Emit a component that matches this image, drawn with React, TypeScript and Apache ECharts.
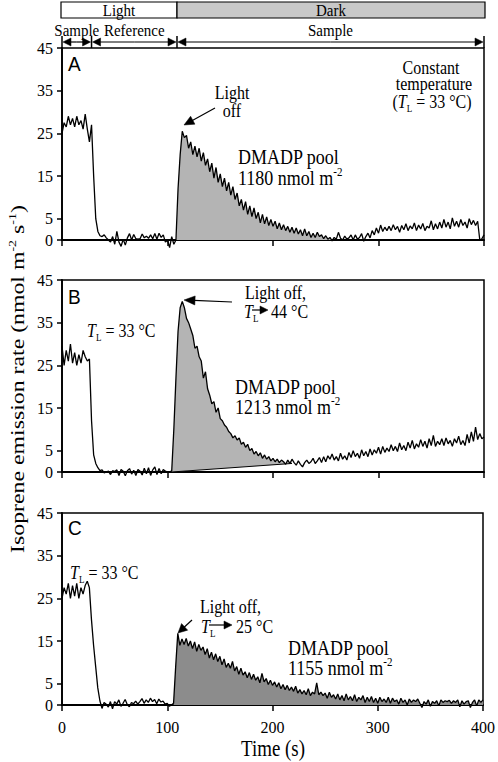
import { useEffect, useRef } from 'react';
import * as echarts from 'echarts';

// ---------------- data ----------------
const TIME_STEP = 2; // s between samples, t = 0 … 400
const A_VALUES = [
  25, 27.5, 26.5, 29, 27, 28.5, 26.5, 29, 27, 28, 26, 29.5, 26, 23, 27, 15, 5, 2, 1, 0.8,
  1.2, 0.5, 0, -0.5, 0.8, -1, 2, -0.5, -1.5, 0.2,
  -1.2, 0.5, 1.5, 0, 1.3, 0.3, 0.2, 0.3, 1.4, 0.5,
  0.9, 0.4, 1.2, 0.3, 1.5, 0.2, 1.6, 0.6, 1.2, -0.5,
  0, -1.8, 0.8, -1, 0, 12, 20, 25.5, 24, 24.5,
  21.5, 23, 20, 22, 19.5, 21.5, 18.5, 20.5, 17.5, 19,
  16, 18, 14.5, 17, 13.5, 15.5, 12.5, 14.5, 11.5, 13.5,
  10.5, 12.5, 9.5, 11, 8, 9.5, 7, 9, 6, 8,
  5.5, 7.5, 5, 6.5, 4, 6, 3.8, 5.4, 3.4, 4.8,
  3.2, 4.4, 2.6, 4, 2.4, 3.6, 2.2, 3.2, 1.8, 3,
  1.6, 2.8, 1.4, 2.4, 1, 2.6, 1, 2, 0.6, 1.6,
  0.6, 1.8, 0.8, 1.2, 0.3, 1, 0.2, 0.6, -0.2, 0.6,
  0.2, 1.8, 0.4, 0, 0.9, 0.2, 0.5, 1.2, 0, 1.2,
  0.2, 0.6, 1.5, -0.3, 0.8, 1.6, 0.5, 2.2, 1.2, 2.8,
  1.6, 3.5, 2, 3, 2.2, 3.2, 2.2, 3.6, 2.4, 3.2,
  1.8, 3.4, 2.4, 3.8, 2.2, 3.3, 2.6, 4, 2.2, 3.5,
  2.6, 3.9, 2.2, 3.2, 2.8, 4.5, 2.4, 3.8, 2.6, 4.2,
  2.8, 4.8, 3, 4.2, 2.6, 5.2, 3.2, 4.4, 3, 4.8,
  3.4, 4.2, 2.8, 5, 3.6, 4.6, 3.4, 4.4, 0, 0.3,
  1.2,
];
const B_VALUES = [
  29.5, 25, 28.5, 26, 30, 25.5, 28, 25, 27.5, 25.5,
  28.5, 27, 26, 26.5, 12, 4, 2, 1, 0.3, 0.5,
  -0.2, 0, 0.2, -0.6, 0.3, 0.1, 0.5, -0.8, 0.6, 0.2,
  -0.9, 0.3, 0.8, -0.5, 0.4, -0.8, 0.6, 0.2, -0.7, 0.9,
  -0.4, 1, -0.8, 0.5, 1.2, -0.6, 0.8, -0.4, 0.6, 0.2,
  0, 0, 0.3, 10, 22, 33, 38.5, 40, 38.5, 36,
  35, 33.5, 32, 29, 29.5, 27, 26, 22, 23.5, 19.5,
  18, 16, 16.5, 14, 15, 12.5, 12, 11, 10.5, 9.5,
  9, 8, 8.5, 7.5, 8, 6.5, 7, 5.8, 6.5, 5,
  5.5, 4.2, 4.8, 3.8, 4.5, 3.2, 4, 3, 3.6, 2.6,
  3.2, 2.4, 3, 2.2, 2.8, 2.4, 1.8, 2.8, 2, 3,
  2.2, 1.6, 2.6, 1.8, 1.2, 2.2, 2.8, 2, 2.4, 3.2,
  2, 2.6, 3.4, 2.2, 3.6, 2.4, 3.8, 3, 4.2, 2.8,
  3.6, 2.6, 4.4, 3, 3.8, 2.8, 4.6, 3.4, 5, 3.6,
  4.4, 3.2, 5.2, 3.8, 4.8, 3.6, 5.4, 4, 5.2, 4.4,
  5.8, 4.2, 6, 4.6, 5.6, 4.8, 6.4, 5, 6, 4.8,
  6.8, 5.2, 6.2, 5, 7, 5.6, 7.4, 5.4, 6.6, 5.8,
  7.6, 6, 7.2, 5.6, 7.8, 6.2, 8.6, 6, 7.2, 6.4,
  7.8, 6.2, 8, 6.6, 7.4, 6, 7.8, 6.8, 8.4, 6.4,
  7.4, 6.2, 8.8, 6.8, 9.4, 7.2, 10.5, 7.6, 9, 7.8,
  8.2,
];
const C_VALUES = [
  25, 27.5, 26, 28.5, 25, 28, 25.5, 28.5, 25, 27.5,
  26, 28, 29, 27.5, 20, 14, 9, 4, 1, -0.8,
  0.6, 0.2, -0.5, 0.8, -0.9, 0.8, 0.2, 1.2, -0.3, 0.4,
  1.3, 0.1, -0.4, 0.6, 0.3, 0.9, 0.2, 0.8, 1.5, 0.4,
  1.2, 0.6, 1.6, 0.8, 1.3, 0.3, 1.4, 0.7, 0.9, 0.2,
  0.4, -0.3, 0, 0.4, 9, 16.8, 14, 15.5, 14.2, 15.6,
  13.8, 15, 13.2, 14.8, 12.6, 14.2, 12.8, 13.6, 11.8, 13.2,
  11, 12.4, 10.6, 12, 10.2, 11.4, 9.4, 10.8, 8.8, 9.8,
  8.6, 10.2, 8, 9, 7.2, 8.6, 7, 7.8, 6.4, 7.6,
  6, 7.2, 5.8, 6.6, 5.2, 7.4, 5.4, 6.2, 4.8, 5.8,
  4.6, 5.4, 4.2, 5.2, 3.8, 4.8, 3.6, 4.6, 3.4, 4.2,
  3.2, 4.4, 2.8, 3.6, 2.6, 3.4, 2.4, 3.8, 2.2, 3,
  2.6, 5.2, 2.4, 3, 2.2, 2.8, 1.6, 3, 1.8, 2.4,
  1.4, 2.6, 1.2, 2.2, 1, 2.6, 1.2, 2, 1, 2.4,
  0.8, 1.8, 1.2, 2.2, 0.6, 1.8, 0.8, 2, 0.6, 1.6,
  0.4, 1.8, 0.8, 1.4, 0.6, 1.8, 0.4, 1.6, 0.8, 1.2,
  0.2, 1.6, 0.6, 1.2, 0, 1.4, 0.6, 1.2, 0.8, 1.4,
  0.4, -0.6, 0.8, 0.2, 1.2, -0.3, 0.8, 0.4, 1, -0.2,
  1.2, 0.6, 1, 0.8, 1.1, 0.4, 1, 0.6, 1.2, -0.4,
  1, 0.2, 0.8, 1, -0.6, 0.6, 1.2, -0.2, 1.2, 0.6,
  1.2,
];
const A_FILL_RANGE = [108, 256];
const B_FILL_RANGE = [104, 218];
const B_BASELINE = [[104, 0], [218, 2]];
const C_FILL_RANGE = [106, 400];
const Y_TICKS = [0, 5, 15, 25, 35, 45];
const X_TICKS = [0, 100, 200, 300, 400];
const PHASE_BOUNDS = [0, 28, 109, 400];
const PHASE_LABELS = ['Sample', 'Reference', 'Sample'];
const LIGHT_BOUNDS = [0, 109, 400];
const LIGHT_LABELS = ['Light', 'Dark'];
const PANEL_LABELS = ['A', 'B', 'C'];
const POOL_VALUES = ['1180', '1213', '1155'];
const LEAF_TEMPS = ['33', '44', '25'];

// ---------------- style / layout ----------------
const SERIF = "'Liberation Serif', 'Times New Roman', serif";
const SANS = "'Liberation Sans', Arial, sans-serif";
const FILL_LIGHT = '#b4b4b4';
const FILL_DARK = '#8c8c8c';
const HEADER_DARK = '#c8c8c8';
const GRID_LEFT = 62;
const GRID_WIDTH = 422;
const GRID_HEIGHT = 192;
const GRID_TOPS = [48, 280, 513];
const SY = 1.15;

const toPairs = (vals: number[]) => vals.map((v, i) => [i * TIME_STEP, v]);
const inRange = (pairs: number[][], r: number[]) => pairs.filter((p) => p[0] >= r[0] && p[0] <= r[1]);

const richStyles = (size: number) => ({
  i: { fontStyle: 'italic', fontWeight: 'normal', fontSize: size, fontFamily: SERIF, fill: '#000', lineHeight: size + 4 },
  s: { fontSize: Math.round(size * 0.55), fontWeight: 'normal', fontFamily: SERIF, fill: '#000', verticalAlign: 'bottom', lineHeight: Math.round(size * 0.55) },
  p: { fontSize: Math.round(size * 0.6), fontWeight: 'normal', fontFamily: SERIF, fill: '#000', verticalAlign: 'top', lineHeight: Math.round(size * 0.6) },
});

function txt(x: number, y: number, text: string, o: any = {}) {
  const size = o.size ?? 17;
  return {
    type: 'text',
    x,
    y,
    z: 100,
    rotation: o.rotation ?? 0,
    scaleX: o.sx ?? 1,
    scaleY: o.sy ?? SY,
    style: {
      text,
      x: 0,
      y: 0,
      fill: '#000',
      stroke: 'none',
      lineWidth: 0,
      fontWeight: 'normal',
      fontFamily: o.family ?? SERIF,
      fontSize: size,
      lineHeight: size + 4,
      align: o.align ?? 'left',
      verticalAlign: 'middle',
      rich: richStyles(size),
    },
  };
}

function arrow(x1: number, y1: number, x2: number, y2: number, head = 9, half = 4, lw = 1.2) {
  const dx = x2 - x1;
  const dy = y2 - y1;
  const L = Math.hypot(dx, dy);
  const ux = dx / L;
  const uy = dy / L;
  const bx = x2 - ux * head;
  const by = y2 - uy * head;
  const nx = -uy;
  const ny = ux;
  return [
    { type: 'line', z: 100, shape: { x1, y1, x2: bx + ux * 1, y2: by + uy * 1 }, style: { stroke: '#000', lineWidth: lw } },
    {
      type: 'polygon',
      z: 100,
      shape: { points: [[x2, y2], [bx + nx * half, by + ny * half], [bx - nx * half, by - ny * half]] },
      style: { fill: '#000', stroke: '#000', lineWidth: 0.5 },
    },
  ];
}

function buildOption() {
  const grids = GRID_TOPS.map((top) => ({
    left: GRID_LEFT,
    top,
    width: GRID_WIDTH,
    height: GRID_HEIGHT,
    show: true,
    borderColor: '#000',
    borderWidth: 1.5,
    backgroundColor: 'transparent',
  }));
  const xAxes = GRID_TOPS.map((_, i) => ({
    gridIndex: i,
    type: 'value',
    min: X_TICKS[0],
    max: X_TICKS[X_TICKS.length - 1],
    interval: 100,
    axisLine: { show: true, onZero: false, lineStyle: { color: '#000', width: 1.8 } },
    axisTick: { show: true, inside: false, length: 6, lineStyle: { color: '#000', width: 1.5 } },
    axisLabel: { show: i === 2, color: '#000', fontFamily: SERIF, fontSize: 16, margin: 14 },
    splitLine: { show: false },
  }));
  const yAxes = GRID_TOPS.map((_, i) => ({
    gridIndex: i,
    type: 'value',
    min: 0,
    max: 45,
    interval: 5,
    axisLine: { show: true, onZero: false, lineStyle: { color: '#000', width: 1.8 } },
    axisTick: { show: true, inside: false, length: 5, customValues: Y_TICKS, lineStyle: { color: '#000', width: 1.5 } },
    axisLabel: { color: '#000', fontFamily: SERIF, fontSize: 16, margin: 9, customValues: Y_TICKS },
    splitLine: { show: false },
  }));

  const aPairs = toPairs(A_VALUES);
  const bPairs = toPairs(B_VALUES);
  const cPairs = toPairs(C_VALUES);
  const bPoly = [...inRange(bPairs, B_FILL_RANGE), ...B_BASELINE.slice().reverse()];

  const lineSeries = (pairs: number[][], idx: number) => ({
    type: 'line',
    xAxisIndex: idx,
    yAxisIndex: idx,
    data: pairs,
    symbol: 'none',
    showSymbol: false,
    clip: false,
    silent: true,
    z: 5,
    lineStyle: { color: '#000', width: 1.3 },
  });
  const fillSeries = (pairs: number[][], idx: number, color: string) => ({
    type: 'line',
    xAxisIndex: idx,
    yAxisIndex: idx,
    data: pairs,
    symbol: 'none',
    showSymbol: false,
    clip: false,
    silent: true,
    z: 2,
    lineStyle: { width: 0, opacity: 0 },
    areaStyle: { color, opacity: 1 },
  });

  const series: any[] = [
    fillSeries(inRange(aPairs, A_FILL_RANGE), 0, FILL_LIGHT),
    {
      type: 'custom',
      xAxisIndex: 1,
      yAxisIndex: 1,
      data: [B_BASELINE[0]],
      silent: true,
      z: 2,
      renderItem: (_p: any, api: any) => ({
        type: 'polygon',
        shape: { points: bPoly.map((p) => api.coord(p)) },
        style: { fill: FILL_LIGHT, stroke: 'none' },
      }),
    },
    {
      type: 'line',
      xAxisIndex: 1,
      yAxisIndex: 1,
      data: B_BASELINE,
      symbol: 'none',
      silent: true,
      z: 4,
      lineStyle: { color: '#000', width: 1 },
    },
    fillSeries(inRange(cPairs, C_FILL_RANGE), 2, FILL_DARK),
    lineSeries(aPairs, 0),
    lineSeries(bPairs, 1),
    lineSeries(cPairs, 2),
  ];

  return {
    animation: false,
    backgroundColor: '#fff',
    textStyle: { fontFamily: SERIF },
    grid: grids,
    xAxis: xAxes,
    yAxis: yAxes,
    series,
  };
}

function buildGraphics(chart: any) {
  const px = (t: number) => chart.convertToPixel({ xAxisIndex: 0 }, t) as number;
  const g: any[] = [];

  // Light / Dark bar
  LIGHT_LABELS.forEach((lab, i) => {
    const x1 = px(LIGHT_BOUNDS[i]) - (i === 0 ? 1 : 0);
    const x2 = px(LIGHT_BOUNDS[i + 1]) + (i === 1 ? 1 : 0);
    g.push({
      type: 'rect',
      z: 90,
      shape: { x: x1, y: 2, width: x2 - x1, height: 16 },
      style: { fill: i === 0 ? '#fff' : HEADER_DARK, stroke: '#000', lineWidth: 1.2 },
    });
    g.push(txt((x1 + x2) / 2, 10.5, lab, { size: 15, align: 'center', sy: 1.1 }));
  });

  // phase arrows
  PHASE_LABELS.forEach((lab, i) => {
    const x1 = px(PHASE_BOUNDS[i]);
    const x2 = px(PHASE_BOUNDS[i + 1]);
    g.push(txt((x1 + x2) / 2, 30, lab, { size: 15, align: 'center', sy: 1.1 }));
    const mid = (x1 + x2) / 2;
    g.push(...arrow(mid, 42, x1 + 1, 42, 8, 4, 1.2));
    g.push(...arrow(mid, 42, x2 - 1, 42, 8, 4, 1.2));
  });
  PHASE_BOUNDS.forEach((t) => {
    const x = px(t);
    g.push({ type: 'line', z: 100, shape: { x1: x, y1: 36, x2: x, y2: 48 }, style: { stroke: '#000', lineWidth: 1.5 } });
  });

  // panel letters
  const letterY = [64, 297, 528];
  PANEL_LABELS.forEach((l, i) => g.push(txt(68, letterY[i], l, { size: 19, family: SANS, sy: 1.05 })));

  // Panel A annotations
  g.push(txt(431, 68, 'Constant', { size: 16, align: 'center' }));
  g.push(txt(434, 84, 'temperature', { size: 16, align: 'center' }));
  g.push(txt(432, 102, `({i|T}{s|L} = ${LEAF_TEMPS[0]} °C)`, { size: 16, align: 'center' }));
  g.push(txt(232, 93, 'Light', { size: 16, align: 'center' }));
  g.push(txt(232, 111, 'off', { size: 16, align: 'center' }));
  g.push(...arrow(215, 108, 184, 125, 10, 4.5));
  g.push(txt(238, 157, 'DMADP pool', { size: 18 }));
  g.push(txt(238, 178, `${POOL_VALUES[0]} nmol m{p|-2}`, { size: 18 }));

  // Panel B annotations
  g.push(txt(87, 331, `{i|T}{s|L} = ${LEAF_TEMPS[0]} °C`, { size: 16 }));
  g.push(txt(245, 293, 'Light off,', { size: 16 }));
  g.push(txt(244, 312, '{i|T}{s|L}', { size: 16 }));
  g.push(...arrow(252, 310, 268, 310, 8, 4));
  g.push(txt(271, 312, `${LEAF_TEMPS[1]} °C`, { size: 16 }));
  g.push(...arrow(232, 302, 184, 300, 11, 4.5));
  g.push(txt(235, 387, 'DMADP pool', { size: 18 }));
  g.push(txt(235, 407, `${POOL_VALUES[1]} nmol m{p|-2}`, { size: 18 }));

  // Panel C annotations
  g.push(txt(70, 573, `{i|T}{s|L} = ${LEAF_TEMPS[0]} °C`, { size: 16 }));
  g.push(txt(200, 607, 'Light off,', { size: 16 }));
  g.push(txt(201, 627, '{i|T}{s|L}', { size: 16 }));
  g.push(...arrow(209, 625, 232, 625, 8, 4));
  g.push(txt(236, 627, `${LEAF_TEMPS[2]} °C`, { size: 16 }));
  g.push(...arrow(192, 620, 178, 633, 9, 4.5));
  g.push(txt(288, 648, 'DMADP pool', { size: 18 }));
  g.push(txt(288, 668, `${POOL_VALUES[2]} nmol m{p|-2}`, { size: 18 }));

  // axis titles
  g.push(txt(273, 748, 'Time (s)', { size: 18, align: 'center', sy: 1.25, sx: 1.05 }));
  g.push(
    txt(18, 379, 'Isoprene emission rate (nmol m{p|-2} s{p|-1})', {
      size: 17,
      align: 'center',
      rotation: Math.PI / 2,
      sx: 1.4,
      sy: 1.08,
    })
  );
  return g;
}

export default function App() {
  const ref = useRef<HTMLDivElement>(null);
  useEffect(() => {
    const chart = echarts.init(ref.current as HTMLDivElement, null, { renderer: 'svg' });
    chart.setOption(buildOption() as any);
    chart.setOption({ graphic: buildGraphics(chart) } as any);
    return () => chart.dispose();
  }, []);
  return (
    <div
      ref={ref}
      style={{ position: 'absolute', left: 0, top: 0, width: 498, height: 762, background: '#fff' }}
    />
  );
}
